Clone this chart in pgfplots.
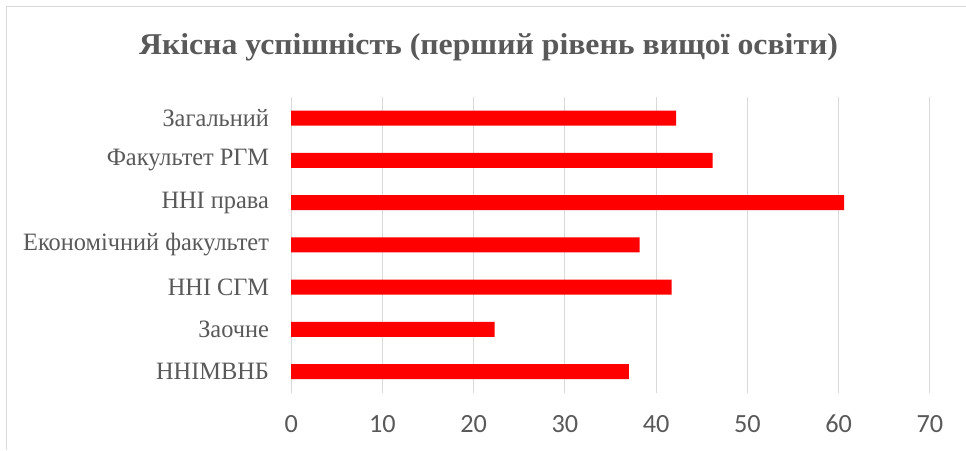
\documentclass[border=0pt]{standalone}
\usepackage{fontspec}
\usepackage{pgfplots}
\pgfplotsset{compat=1.18}
\setmainfont{Liberation Serif}
\newfontfamily\catfont[FakeStretch=0.975]{Liberation Serif}
\newfontfamily\titlefont[FakeStretch=1.05]{Liberation Serif}
\newfontfamily\tickfont{Carlito}
\definecolor{txt}{HTML}{595959}
\definecolor{grd}{HTML}{D9D9D9}
\begin{document}
\begin{tikzpicture}
\path (0,0) rectangle (724.5pt,-337.5pt);
\draw[grd, line width=0.75pt] (4.7pt,-337.5pt) -- (4.7pt,-5.25pt) -- (724.5pt,-5.25pt);
\node[txt, font=\titlefont\bfseries\fontsize{22.7pt}{27pt}\selectfont, anchor=base, inner sep=0pt] at (366.6pt,-41.25pt) {Якісна успішність (перший рівень вищої освіти)};
\begin{axis}[
  at={(218.5pt,-294.7pt)}, anchor=south west,
  width=479.25pt, height=222pt, scale only axis,
  xmin=0, xmax=70, ymin=-0.5, ymax=6.5,
  xbar, bar width=11.25pt,
  axis line style={draw=none},
  xtick={0,10,...,70},
  ytick={0,...,6},
  yticklabels={ННІМВНБ,Заочне,ННІ СГМ,Економічний факультет,ННІ права,Факультет РГМ,Загальний},
  xmajorgrids, grid style={grd, line width=0.75pt},
  major tick length=0pt,
  xticklabel style={font=\tickfont\fontsize{19.7pt}{23pt}\selectfont, text=txt, inner sep=0pt, anchor=north, yshift=-16.5pt},
  yticklabel style={font=\catfont\fontsize{18.75pt}{22pt}\selectfont, text=txt, inner sep=0pt, anchor=east, xshift=-16.5pt},
  /pgf/number format/assume math mode=true,
  clip=false,
]
\addplot[fill=red, draw=none] coordinates {(37.0,0) (22.3,1) (41.7,2) (38.2,3) (60.6,4) (46.2,5) (42.2,6)};
\end{axis}
\end{tikzpicture}
\end{document}
